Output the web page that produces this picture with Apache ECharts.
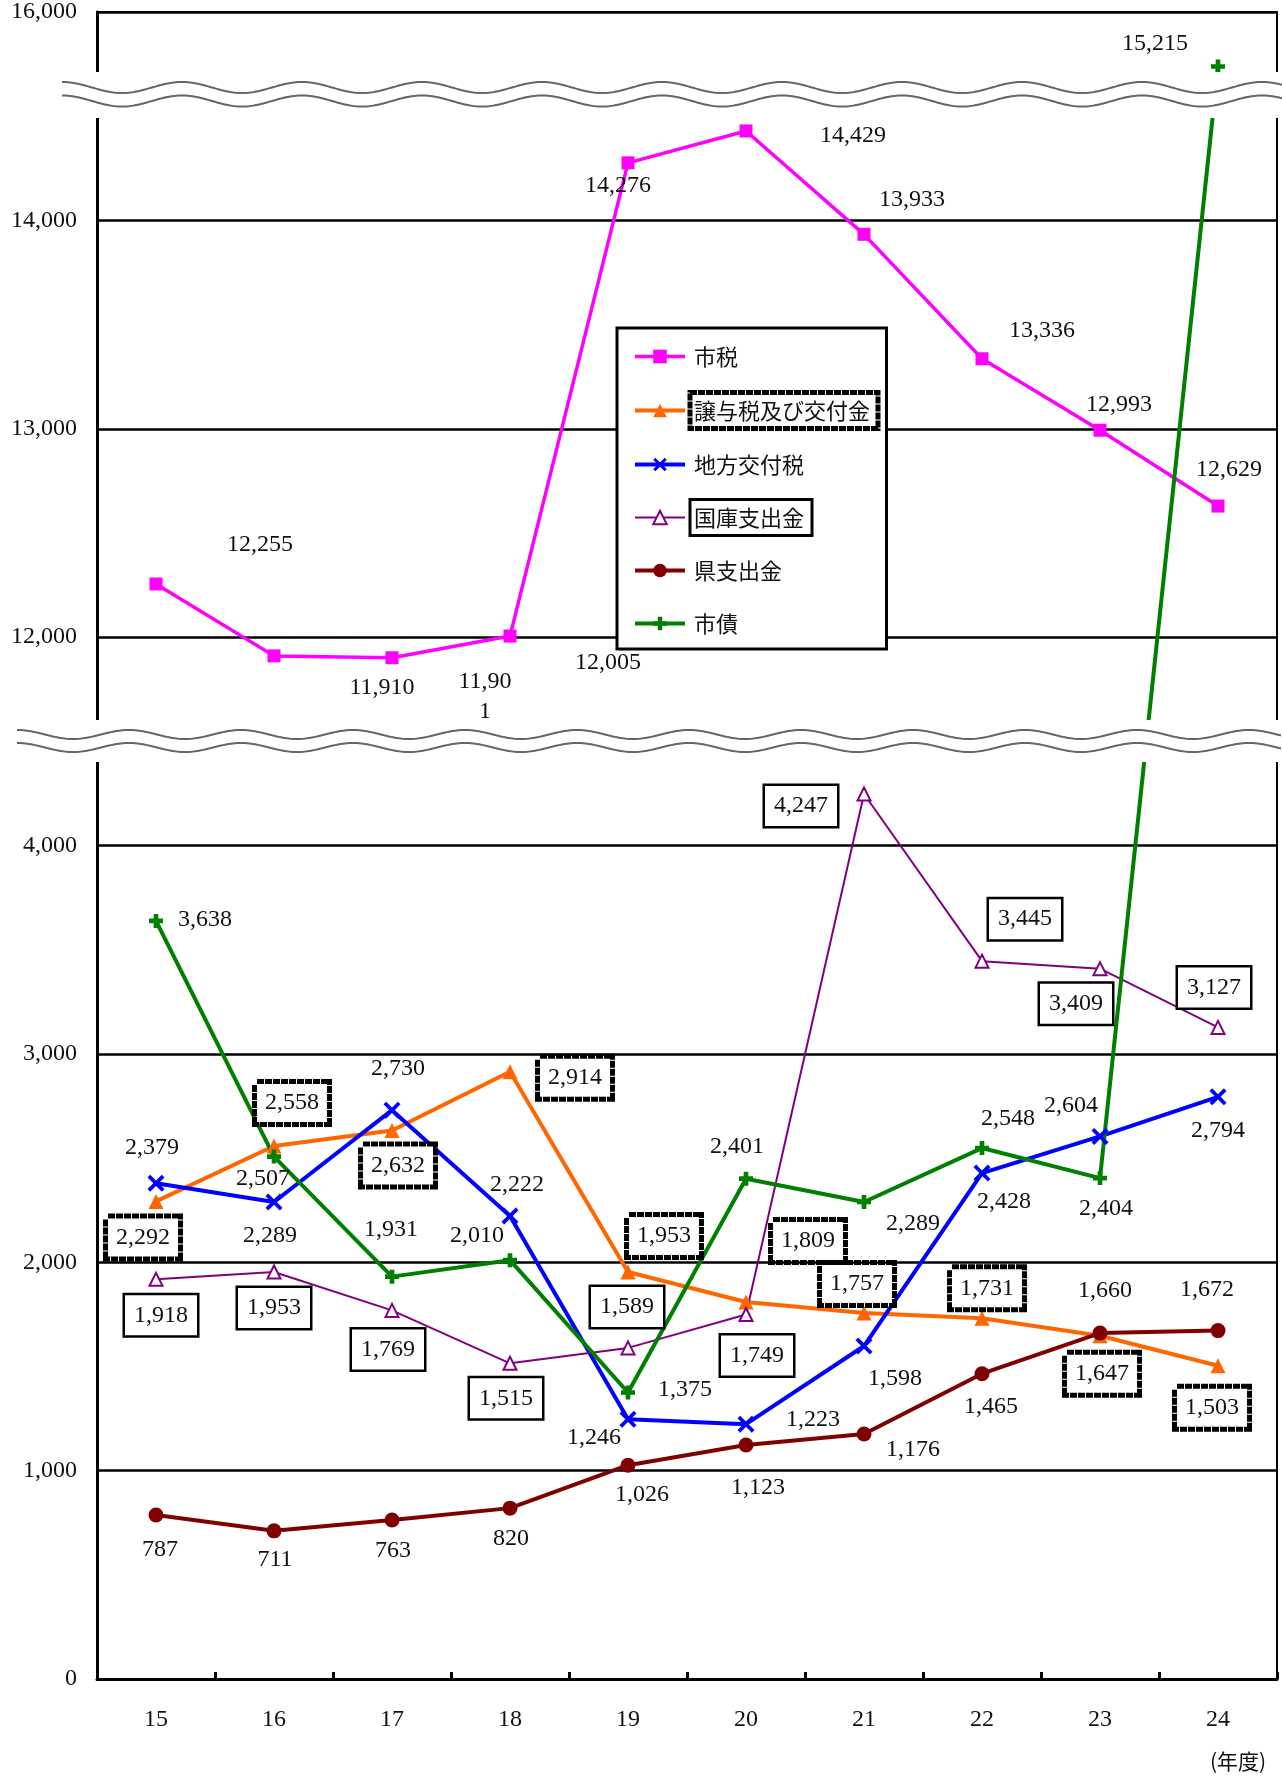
<!DOCTYPE html>
<html>
<head>
<meta charset="utf-8">
<title>歳入の推移</title>
<script src="https://cdn.jsdelivr.net/npm/echarts@6/dist/echarts.min.js"></script>
<style>
  html, body { margin: 0; padding: 0; background: #fff; }
  #chart { width: 1282px; height: 1778px; }
</style>
</head>
<body>
<div id="chart"></div>
<script>
// 年度 (平成)
const years = ['15', '16', '17', '18', '19', '20', '21', '22', '23', '24'];

// 歳入項目別の推移 (百万円)
const shizei        = [12255, 11910, 11901, 12005, 14276, 14429, 13933, 13336, 12993, 12629];
const joyozei       = [2292, 2558, 2632, 2914, 1953, 1809, 1757, 1731, 1647, 1503];
const chihoKofuzei  = [2379, 2289, 2730, 2222, 1246, 1223, 1598, 2428, 2604, 2794];
const kokkoShishutsu = [1918, 1953, 1769, 1515, 1589, 1749, 4247, 3445, 3409, 3127];
const kenShishutsu  = [787, 711, 763, 820, 1026, 1123, 1176, 1465, 1660, 1672];
const shisai        = [3638, 2507, 1931, 2010, 1375, 2401, 2289, 2548, 2404, 15215];

// 目盛ラベル (軸の省略あり)
const yTickLabels = ['0', '1,000', '2,000', '3,000', '4,000', '12,000', '13,000', '14,000', '16,000'];

// 省略線をはさむ縦軸: 0–5,000 / 12,000–14,500 / 14,500–16,000 を一本の軸へ写す
function toAxis(v) {
  if (v <= 5000) return v;
  if (v <= 14500) return v - 7000;
  return 7500 + (v - 14500) / 3;
}

// データラベルの位置 (マーカー中心からのずれ, px)
const labelShift = {
  shizei:   [[104,-39],[108,32],[93,39],[98,27],[-10,23],[107,5],[48,-35],[60,-28],[19,-26],[11,-36]],
  joyozei:  [[-13,36],[18,-43],[6,35],[65,6],[36,-36],[62,-61],[-7,-29],[5,-30],[2,38],[-6,42]],
  chiho:    [[-4,-36],[-4,34],[6,-41],[7,-31],[-34,18],[67,-4],[31,33],[22,29],[-29,-31],[0,34]],
  kokko:    [[5,36],[0,36],[-4,39],[-4,35],[-1,-41],[11,41],[-63,12],[43,-42],[-24,35],[-4,-40]],
  ken:      [[4,35],[1,29],[1,31],[1,31],[14,29],[12,43],[49,16],[9,33],[5,-42],[-11,-41]],
  shisai:   [[49,-1],[-11,22],[-1,-47],[-33,-24],[57,-3],[-9,-32],[49,22],[26,-29],[6,31],[-63,-23]]
};

const numFont = 'Liberation Serif';
const jpFont = 'Noto Sans CJK JP';
const fmt = v => v.toLocaleString('en-US');

const plainLabel = { fontFamily: numFont, fontSize: 24, color: '#111' };
const dashedBox = {
  fontFamily: numFont, fontSize: 24, color: '#111',
  backgroundColor: '#fff', borderColor: '#000', borderWidth: 5, borderType: [7, 1],
  padding: [8, 8, 6, 8]
};
const solidBox = {
  fontFamily: numFont, fontSize: 24, color: '#111',
  backgroundColor: '#fff', borderColor: '#000', borderWidth: 2.5,
  padding: [9, 9, 7, 9]
};

function buildData(values, shifts, labelStyle, extra) {
  return values.map((v, i) => {
    const lab = Object.assign({
      show: true,
      position: 'inside',
      align: 'center',
      verticalAlign: 'middle',
      offset: shifts[i],
      formatter: fmt(v)
    }, labelStyle, (extra && extra[i]) || {});
    return { value: toAxis(v), label: lab };
  });
}

// 11,901 のラベルは幅が足りず折り返されている
const shizeiExtra = { 2: { width: 58, overflow: 'breakAll', lineHeight: 30 } };

const plusPath = 'path://M5,0H10V5H15V10H10V15H5V10H0V5H5Z';
const crossPath = 'path://M0,2.5L2.5,0L8,5.5L13.5,0L16,2.5L10.5,8L16,13.5L13.5,16L8,10.5L2.5,16L0,13.5L5.5,8Z';

function wave(x0, x1, yc, amp, period, phase) {
  const pts = [];
  for (let x = x0; x <= x1; x += 2) {
    pts.push([x, yc - amp * Math.cos((x - x0) / period * 2 * Math.PI + phase)]);
  }
  return pts;
}

const legendText = { fontFamily: jpFont, fontSize: 22, color: '#111', lineHeight: 26, padding: [7, 8, 7, 4] };

const chart = echarts.init(document.getElementById('chart'), null, { renderer: 'canvas' });

const option = {
  animation: false,
  backgroundColor: '#fff',
  grid: {
    left: 97, right: 5, top: 12, bottom: 99,
    show: true, borderColor: '#000', borderWidth: 2, containLabel: false
  },
  xAxis: {
    type: 'category',
    data: years,
    boundaryGap: true,
    axisLine: { lineStyle: { color: '#000', width: 3 } },
    axisTick: { show: true, inside: true, length: 7, lineStyle: { color: '#000', width: 3 } },
    axisLabel: { fontFamily: numFont, fontSize: 24, color: '#111', margin: 29 }
  },
  yAxis: {
    type: 'value',
    min: 0, max: 8000, interval: 1000,
    axisLine: { show: true, lineStyle: { color: '#000', width: 3 } },
    axisTick: { show: false },
    axisLabel: {
      fontFamily: numFont, fontSize: 24, color: '#111', margin: 20,
      formatter: (val, idx) => yTickLabels[idx]
    },
    splitLine: { show: true, lineStyle: { color: '#000', width: 2.5 } }
  },
  legend: {
    orient: 'vertical',
    left: 617, top: 328,
    padding: [9, 6, 6, 16],
    itemGap: 14,
    itemWidth: 50,
    itemHeight: 17,
    selectedMode: false,
    backgroundColor: '#fff',
    borderColor: '#000',
    borderWidth: 3,
    lineStyle: { width: 'inherit' },
    formatter: name => {
      if (name === '譲与税及び交付金') return '{d|' + name + '}';
      if (name === '国庫支出金') return '{s|' + name + '}';
      return '{n|' + name + '}';
    },
    textStyle: {
      rich: {
        n: Object.assign({}, legendText, { borderColor: 'transparent', borderWidth: 3 }),
        d: Object.assign({}, legendText, { borderColor: '#000', borderWidth: 5, borderType: [7, 1] }),
        s: Object.assign({}, legendText, { borderColor: '#000', borderWidth: 3 })
      }
    },
    data: ['市税', '譲与税及び交付金', '地方交付税', '国庫支出金', '県支出金', '市債']
  },
  series: [
    {
      name: '市税', type: 'line',
      data: buildData(shizei, labelShift.shizei, plainLabel, shizeiExtra),
      symbol: 'rect', symbolSize: 13,
      itemStyle: { color: '#FF00FF' },
      lineStyle: { color: '#FF00FF', width: 3.5 }
    },
    {
      name: '譲与税及び交付金', type: 'line',
      data: buildData(joyozei, labelShift.joyozei, dashedBox),
      symbol: 'triangle', symbolSize: 15,
      itemStyle: { color: '#FF6600' },
      lineStyle: { color: '#FF6600', width: 4 }
    },
    {
      name: '地方交付税', type: 'line',
      data: buildData(chihoKofuzei, labelShift.chiho, plainLabel),
      symbol: crossPath, symbolSize: 17,
      itemStyle: { color: '#0000FF' },
      lineStyle: { color: '#0000FF', width: 4 }
    },
    {
      name: '国庫支出金', type: 'line',
      data: buildData(kokkoShishutsu, labelShift.kokko, solidBox),
      symbol: 'emptyTriangle', symbolSize: 13,
      itemStyle: { color: '#800080', borderColor: '#800080', borderWidth: 2.5 },
      lineStyle: { color: '#800080', width: 2 }
    },
    {
      name: '県支出金', type: 'line',
      data: buildData(kenShishutsu, labelShift.ken, plainLabel),
      symbol: 'circle', symbolSize: 15,
      itemStyle: { color: '#800000' },
      lineStyle: { color: '#800000', width: 4 }
    },
    {
      name: '市債', type: 'line',
      data: buildData(shisai, labelShift.shisai, plainLabel),
      symbol: plusPath, symbolSize: 14,
      itemStyle: { color: '#008000' },
      lineStyle: { color: '#008000', width: 4 }
    }
  ],
  graphic: [
    // 上側の省略線
    { type: 'rect', z: 100, shape: { x: 62, y: 72, width: 1220, height: 46 }, style: { fill: '#fff' } },
    { type: 'polyline', z: 101, shape: { points: wave(62, 1282, 87.5, 5.5, 120, 0) }, style: { stroke: '#666', lineWidth: 2, fill: null } },
    { type: 'polyline', z: 101, shape: { points: wave(62, 1282, 101, 5.5, 120, 0) }, style: { stroke: '#666', lineWidth: 2, fill: null } },
    // 下側の省略線
    { type: 'rect', z: 100, shape: { x: 17, y: 720, width: 1265, height: 42 }, style: { fill: '#fff' } },
    { type: 'polyline', z: 101, shape: { points: wave(17, 1282, 734.5, 4.5, 112, 0) }, style: { stroke: '#666', lineWidth: 2, fill: null } },
    { type: 'polyline', z: 101, shape: { points: wave(17, 1282, 747.5, 4.5, 112, 0) }, style: { stroke: '#666', lineWidth: 2, fill: null } },
    // 単位
    { type: 'text', z: 102, left: 1210, top: 1751, style: { text: '(年度)', fontFamily: jpFont, fontSize: 21, fill: '#111' } }
  ]
};

chart.setOption(option);
</script>
</body>
</html>
